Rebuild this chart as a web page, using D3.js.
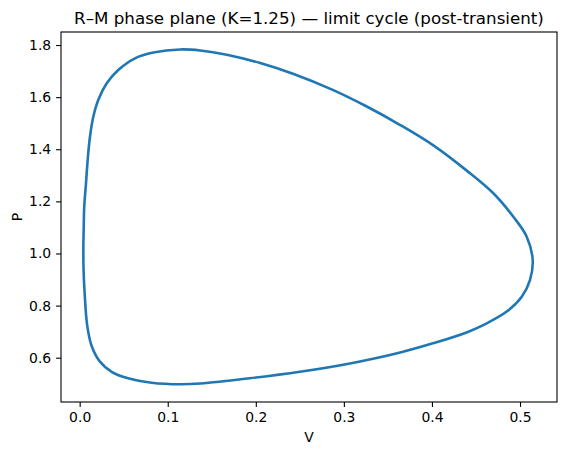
<!DOCTYPE html>
<html>
<head>
<meta charset="utf-8">
<script src="https://cdn.jsdelivr.net/npm/d3@7"></script>
<style>
  body { margin: 0; background: #fff; }
  svg { display: block; font-family: "DejaVu Sans", sans-serif; }
</style>
</head>
<body>
<div id="chart"></div>
<script>
// Limit cycle points, going round the loop
const vValues = [
  0.0044, 0.0042, 0.0046, 0.0052, 0.0072, 0.0091, 0.0117, 0.0155, 0.0211, 0.0307,
  0.0438, 0.0628, 0.0836, 0.114, 0.137, 0.167, 0.205, 0.243, 0.288, 0.326,
  0.364, 0.402, 0.4395, 0.4697, 0.4924, 0.5076, 0.5144, 0.5113, 0.502,
  0.4849, 0.4622, 0.440, 0.402, 0.364, 0.307, 0.250, 0.193, 0.137, 0.114,
  0.0818, 0.055, 0.0363, 0.023, 0.0136, 0.0085, 0.0056
];
const pValues = [
  0.94, 1.02, 1.10, 1.18, 1.27, 1.359, 1.448, 1.525, 1.589, 1.653,
  1.704, 1.749, 1.771, 1.783, 1.779, 1.763, 1.731, 1.689, 1.627, 1.564,
  1.493, 1.414, 1.318, 1.231, 1.141, 1.0645, 0.975, 0.898, 0.834,
  0.777, 0.732, 0.698, 0.656, 0.620, 0.578, 0.546, 0.521, 0.501, 0.498,
  0.504, 0.521, 0.546, 0.585, 0.645, 0.725, 0.85
];
const xTicks = [0.0, 0.1, 0.2, 0.3, 0.4, 0.5];
const yTicks = [0.6, 0.8, 1.0, 1.2, 1.4, 1.6, 1.8];
const title = "R\u2013M phase plane (K=1.25) \u2014 limit cycle (post-transient)";

const width = 567;
const height = 455;
const margin = { top: 32, right: 10, bottom: 53, left: 61 };

const svg = d3.select("#chart")
  .append("svg")
  .attr("width", width)
  .attr("height", height);

const x = d3.scaleLinear()
  .domain([-0.0212, 0.542])
  .range([margin.left, width - margin.right]);

const y = d3.scaleLinear()
  .domain([0.430, 1.850])
  .range([height - margin.bottom, margin.top]);

const points = vValues.map((v, i) => [v, pValues[i]]);

// the cycle itself
const line = d3.line()
  .x((d) => x(d[0]))
  .y((d) => y(d[1]))
  .curve(d3.curveCatmullRomClosed.alpha(0.5));

svg.append("path")
  .datum(points)
  .attr("fill", "none")
  .attr("stroke", "#1f77b4")
  .attr("stroke-width", 2.6)
  .attr("stroke-linejoin", "round")
  .attr("d", line);

// axes
const xAxis = svg.append("g")
  .attr("transform", `translate(0,${height - margin.bottom})`)
  .call(d3.axisBottom(x).tickValues(xTicks).tickFormat(d3.format(".1f")).tickSizeOuter(0).tickSize(4.9).tickPadding(4.9));

const yAxis = svg.append("g")
  .attr("transform", `translate(${margin.left},0)`)
  .call(d3.axisLeft(y).tickValues(yTicks).tickFormat(d3.format(".1f")).tickSizeOuter(0).tickSize(4.9).tickPadding(4.9));

[xAxis, yAxis].forEach((g) => {
  g.select(".domain").remove();
  g.selectAll(".tick line").attr("stroke", "#000").attr("stroke-width", 1.1);
  g.selectAll(".tick text")
    .attr("fill", "#000")
    .style("font-family", "DejaVu Sans")
    .style("font-size", "13.9px");
});

// frame
svg.append("rect")
  .attr("x", margin.left)
  .attr("y", margin.top)
  .attr("width", width - margin.right - margin.left)
  .attr("height", height - margin.bottom - margin.top)
  .attr("fill", "none")
  .attr("stroke", "#000")
  .attr("stroke-width", 1.1);

// labels
svg.append("text")
  .attr("x", (margin.left + width - margin.right) / 2)
  .attr("y", 24)
  .attr("text-anchor", "middle")
  .style("font-size", "16.7px")
  .text(title);

svg.append("text")
  .attr("x", (margin.left + width - margin.right) / 2)
  .attr("y", 442)
  .attr("text-anchor", "middle")
  .style("font-size", "13.9px")
  .text("V");

svg.append("text")
  .attr("transform", `translate(22,${(margin.top + height - margin.bottom) / 2}) rotate(-90)`)
  .attr("text-anchor", "middle")
  .style("font-size", "13.9px")
  .text("P");
</script>
</body>
</html>
